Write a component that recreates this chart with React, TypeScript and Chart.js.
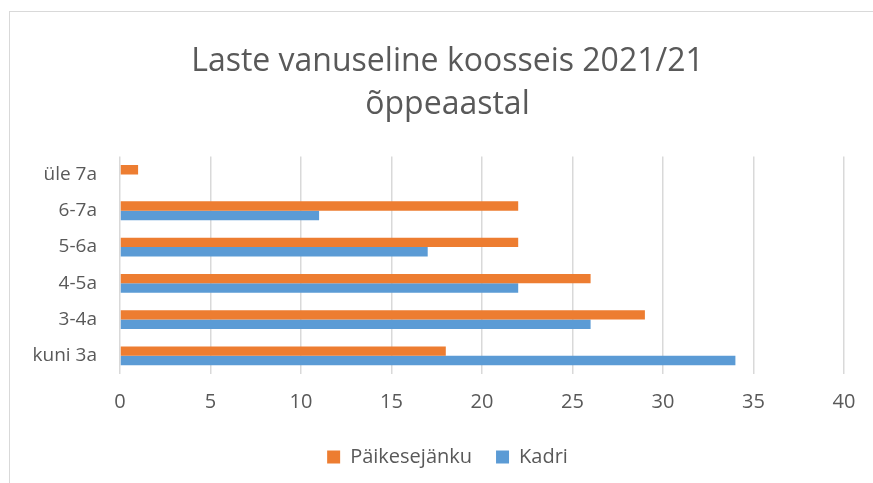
import React, { useEffect, useRef } from "react";
import { Chart, registerables } from "chart.js";

Chart.register(...registerables);

const categories = ["üle 7a", "6-7a", "5-6a", "4-5a", "3-4a", "kuni 3a"];
const paikesejankuValues = [1, 22, 22, 26, 29, 18];
const kadriValues = [0, 11, 17, 22, 26, 34];
const seriesNames = ["Päikesejänku", "Kadri"];
const titleLines = ["Laste vanuseline koosseis 2021/21", "õppeaastal"];
const xMin = 0;
const xMax = 40;
const xStep = 5;

const FONT = "'Open Sans', 'Noto Sans', sans-serif";
const TEXT = "#595959";
const GRID = "#d9d9d9";

// shifts the title and legend boxes so that they are centred like in the original frame
const centerShift = {
  id: "centerShift",
  afterLayout(chart: any) {
    if (chart.titleBlock) chart.titleBlock.left = 51;
    if (chart.legend) chart.legend.left = 51;
  },
};

export default function App() {
  const ref = useRef<HTMLCanvasElement | null>(null);

  useEffect(() => {
    if (!ref.current) return;
    const chart = new Chart(ref.current, {
      type: "bar",
      data: {
        labels: categories,
        datasets: [
          {
            label: seriesNames[0],
            data: paikesejankuValues,
            backgroundColor: "#ED7D31",
            borderWidth: 0,
            categoryPercentage: 0.52,
            barPercentage: 1,
          },
          {
            label: seriesNames[1],
            data: kadriValues,
            backgroundColor: "#5B9BD5",
            borderWidth: 0,
            categoryPercentage: 0.52,
            barPercentage: 1,
          },
        ],
      },
      plugins: [centerShift],
      options: {
        indexAxis: "y",
        responsive: false,
        animation: false,
        maintainAspectRatio: false,
        layout: { padding: { left: 0, right: 29, top: 0, bottom: 6 } },
        plugins: {
          title: {
            display: true,
            text: titleLines,
            color: TEXT,
            font: { family: FONT, size: 32, weight: 400, lineHeight: 1.35 },
            padding: { top: 40, bottom: 30 },
          },
          legend: {
            display: true,
            position: "bottom",
            labels: {
              color: TEXT,
              font: { family: FONT, size: 20 },
              boxWidth: 13,
              boxHeight: 13,
              padding: 24,
            },
          },
          tooltip: { enabled: false },
        },
        scales: {
          x: {
            min: xMin,
            max: xMax,
            ticks: {
              stepSize: xStep,
              color: TEXT,
              font: { family: FONT, size: 20 },
              padding: 16,
            },
            grid: { color: GRID, lineWidth: 1.5, drawTicks: false },
            border: { display: false },
            afterFit: (scale: any) => {
              scale.height = 49;
            },
          },
          y: {
            ticks: {
              color: TEXT,
              font: { family: FONT, size: 19 },
              padding: 23,
            },
            grid: { display: false, drawTicks: false },
            border: { display: false },
            afterFit: (scale: any) => {
              scale.width = 120;
            },
          },
        },
      },
    });
    return () => chart.destroy();
  }, []);

  return (
    <div
      style={{
        position: "fixed",
        left: 0,
        top: 0,
        width: 873,
        height: 483,
        background: "#fff",
        overflow: "hidden",
      }}
    >
      <div
        style={{
          position: "absolute",
          left: 9,
          top: 11,
          width: 900,
          height: 500,
          borderLeft: "1.5px solid #d9d9d9",
          borderTop: "1.5px solid #d9d9d9",
        }}
      />
      <canvas
        ref={ref}
        width={873}
        height={483}
        style={{ position: "absolute", left: 0, top: 0, width: 873, height: 483 }}
      />
    </div>
  );
}
